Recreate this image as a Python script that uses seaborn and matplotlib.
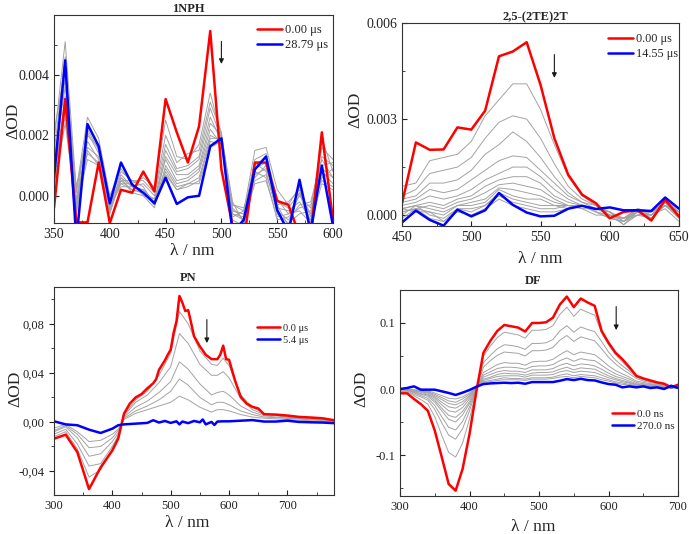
import numpy as np
import pandas as pd
import matplotlib
matplotlib.use("Agg")
import matplotlib.pyplot as plt
import seaborn as sns
from matplotlib.ticker import MultipleLocator, FuncFormatter

# ---- 1NPH (values in milli-OD) ----
nph_wl = list(range(350, 601, 10))
nph_red = [-0.4, 3.2, -0.88, -0.88, 1.1, -0.9, 0.2, 0.1, 0.8, 0.15, 3.2, 2.1, 1.1, 2.3, 5.45, 0.87,
           -1.0, -1.5, 1.1, 1.1, -0.17, -0.3, -1.3, -1.3, 2.1, -0.8]
nph_blue = [0.6, 4.48, -1.5, 2.37, 1.64, -0.25, 1.1, 0.37, 0.1, -0.25, 0.6, -0.27, -0.05, 0.0, 1.64, 1.9,
            -1.2, -0.8, 0.87, 1.3, -0.47, -1.2, 0.53, -1.2, 1.0, -1.0]
nph_gray = [
    [1.8, 5.1, 0.2, 2.6, 1.9, 0.0, 0.9, 0.4, 0.6, 0.3, 2.5, 1.3, 1.2, 1.7, 3.4, 2.0, -0.3, -0.5, 1.5, 1.6, 0.2, -0.3, 0.3, -0.9, 1.9, 0.8],
    [1.4, 4.6, -0.2, 2.4, 1.7, -0.2, 0.8, 0.5, 0.5, 0.1, 2.0, 1.1, 1.4, 1.5, 3.1, 2.1, -0.5, -0.6, 1.2, 1.4, -0.1, -0.6, 0.0, -0.4, 1.6, 1.2],
    [2.1, 4.2, 0.1, 2.2, 1.5, -0.4, 0.7, 0.3, 0.4, 0.0, 1.7, 0.9, 1.0, 1.3, 2.9, 1.9, -0.4, -0.8, 1.0, 1.3, -0.3, -0.2, 0.2, -0.7, 1.3, 1.0],
    [0.9, 3.9, -0.5, 2.1, 1.4, -0.3, 0.6, 0.3, 0.2, -0.2, 1.5, 0.8, 0.9, 1.2, 2.6, 1.8, -0.7, -0.5, 0.9, 1.1, -0.5, -0.8, -0.3, -0.2, 1.2, 0.6],
    [1.2, 3.6, 0.3, 2.0, 1.6, -0.5, 0.5, 0.5, 0.3, -0.3, 1.3, 0.7, 0.7, 1.0, 2.4, 2.0, -0.2, -0.9, 0.7, 0.9, -0.2, -0.4, 0.1, -1.0, 1.0, 1.1],
    [0.5, 3.3, -0.3, 1.8, 1.2, -0.4, 0.4, 0.2, 0.1, -0.1, 1.2, 0.5, 0.6, 0.9, 2.2, 1.7, -0.6, -0.7, 1.1, 0.8, -0.6, -0.9, -0.6, -0.5, 0.8, 0.4],
    [0.2, 3.0, -0.1, 1.6, 1.3, -0.6, 0.6, 0.1, 0.0, -0.4, 1.0, 0.4, 0.5, 0.8, 2.0, 1.8, -0.3, -0.4, 0.6, 1.0, -0.4, -0.5, -0.2, -0.8, 0.6, 0.9],
    [0.7, 2.8, -0.6, 1.5, 1.0, -0.3, 0.3, 0.3, 0.2, -0.2, 0.9, 0.3, 0.4, 0.6, 1.9, 1.9, -0.8, -1.0, 0.8, 0.6, -0.8, -0.7, -0.4, -0.3, 0.5, 0.3],
    [1.0, 2.6, -0.2, 1.4, 1.1, -0.5, 0.5, 0.2, 0.1, -0.3, 0.8, 0.2, 0.3, 0.5, 1.8, 1.7, -0.5, -0.6, 0.5, 0.7, -0.3, -1.0, 0.1, -0.6, 0.9, 0.6],
    [0.3, 2.4, -0.4, 1.2, 1.0, -0.2, 0.4, 0.4, 0.0, -0.1, 0.7, 0.2, 0.4, 0.4, 1.6, 1.8, -0.6, -0.8, 0.4, 0.5, -0.7, -0.6, -0.5, -0.9, 0.4, 0.2],
]

# ---- 2,5-(2TE)2T (milli-OD) ----
te_wl = list(range(450, 651, 10))
te_red = [0.37, 2.27, 2.04, 2.05, 2.74, 2.67, 3.26, 4.96, 5.11, 5.4, 4.07, 2.4, 1.26, 0.64, 0.37, -0.1, 0.1, 0.15, -0.17, 0.48, -0.04]
te_blue = [-0.23, 0.14, -0.15, -0.33, 0.17, -0.04, 0.15, 0.69, 0.32, 0.08, -0.04, -0.02, 0.2, 0.29, 0.19, 0.24, 0.15, 0.15, 0.13, 0.55, 0.2]
te_gray = [
    [0.9, 1.0, 1.7, 1.8, 1.9, 2.3, 3.1, 3.6, 4.1, 4.1, 3.3, 2.2, 1.2, 0.6, 0.3, 0.1, -0.1, 0.1, 0.0, 0.3, 0.0],
    [0.6, 0.8, 1.3, 1.4, 1.5, 1.8, 2.4, 2.9, 3.1, 3.0, 2.4, 1.6, 0.9, 0.5, 0.3, 0.0, -0.1, 0.2, -0.1, 0.4, 0.1],
    [0.5, 0.6, 1.0, 1.0, 1.1, 1.4, 1.9, 2.2, 2.6, 2.3, 1.8, 1.2, 0.7, 0.4, 0.2, 0.1, -0.2, 0.0, 0.1, 0.3, -0.1],
    [0.4, 0.5, 0.8, 0.7, 0.8, 1.1, 1.4, 1.7, 1.85, 1.8, 1.4, 1.0, 0.6, 0.4, 0.3, 0.0, -0.1, 0.1, 0.0, 0.4, 0.0],
    [0.3, 0.4, 0.6, 0.5, 0.6, 0.8, 1.1, 1.3, 1.5, 1.5, 1.2, 0.8, 0.5, 0.3, 0.2, 0.1, -0.2, 0.2, 0.1, 0.3, 0.1],
    [0.2, 0.3, 0.4, 0.3, 0.5, 0.6, 0.9, 1.1, 1.2, 1.2, 1.0, 0.6, 0.4, 0.3, 0.2, 0.0, -0.1, 0.0, -0.1, 0.4, -0.1],
    [0.1, 0.2, 0.3, 0.2, 0.4, 0.5, 0.7, 0.95, 1.0, 0.9, 0.8, 0.5, 0.3, 0.3, 0.2, 0.1, -0.2, 0.1, 0.0, 0.3, 0.0],
    [0.2, 0.3, 0.2, 0.1, 0.3, 0.4, 0.5, 0.85, 0.8, 0.7, 0.6, 0.4, 0.3, 0.3, 0.1, 0.0, -0.1, 0.2, 0.1, 0.4, 0.1],
    [0.1, 0.2, 0.1, 0.0, 0.3, 0.3, 0.4, 0.8, 0.6, 0.5, 0.5, 0.3, 0.3, 0.2, 0.2, 0.1, -0.3, 0.0, 0.0, 0.2, -0.2],
    [0.0, 0.3, 0.0, -0.1, 0.2, 0.2, 0.3, 0.7, 0.5, 0.4, 0.3, 0.3, 0.2, 0.3, 0.1, -0.1, -0.2, 0.1, -0.1, 0.3, 0.0],
    [0.2, 0.1, 0.1, -0.2, 0.2, 0.1, 0.3, 0.6, 0.4, 0.3, 0.2, 0.2, 0.3, 0.2, 0.0, 0.0, -0.3, 0.1, 0.1, 0.4, -0.1],
    [-0.1, 0.2, -0.1, -0.2, 0.1, 0.0, 0.2, 0.5, 0.3, 0.2, 0.1, 0.1, 0.2, 0.3, 0.1, -0.1, -0.2, 0.2, 0.0, 0.5, 0.1],
]

# ---- PN (milli-OD) ----
pn_red_wl = [300, 320, 340, 360, 380, 400, 410, 420, 430, 440, 450, 460, 470, 475, 480, 490, 495,
             500, 505, 510, 515, 520, 525, 530, 535, 540, 550, 560, 570, 580, 585, 590, 595, 600,
             610, 620, 630, 640, 650, 660, 680, 700, 720, 740, 760, 780]
pn_red = [-13.7, -10.4, -24.7, -54.8, -37, -23.3, -13.7, 6.8, 15, 20, 22.7, 27.4, 31.5, 34.8, 42.5, 50.1, 54.8,
          58.9, 72.6, 82.2, 102.7, 97.3, 90.4, 91.2, 80.8, 69.9, 61.6, 54.8, 51.2, 51.2, 54.8, 62.2, 51.2, 50.7,
          34.2, 20.5, 15, 12.3, 11, 6.3, 6, 5.2, 4.1, 3.6, 3, 1.4]
pn_blue_wl = [300, 320, 340, 360, 380, 400, 410, 420, 440, 460, 470, 480, 490, 500, 510, 515, 520, 530,
              540, 550, 555, 560, 570, 575, 580, 590, 600, 620, 640, 660, 680, 700, 720, 740, 760, 780]
pn_blue = [0.5, -2.0, -2.7, -6.3, -9.0, -5.5, -2.7, -2.0, -1.4, -0.8, 1.4, -0.5, 0.8, -0.8, 0.5, -2.0, 0.3, -1.0,
           0.8, -0.3, 2.0, -2.0, 0.0, -2.5, 0.3, 0.5, 0.5, 1.0, 1.5, 0.3, 0.3, 1.0, 0.0, -0.3, -0.5, -1.0]
pn_gray_wl = [300, 320, 340, 360, 380, 400, 410, 420, 440, 460, 480, 500, 515, 530, 550, 570, 580, 590,
              600, 620, 640, 660, 700, 740, 780]
pn_gray = [
    [-12, -8, -22, -45, -39, -22, -12, 6, 18, 25, 38, 56, 90, 80, 58, 47, 46, 52, 46, 22, 12, 7, 4, 3, 1],
    [-10, -6, -18, -36, -34, -20, -11, 5, 16, 22, 32, 45, 72, 64, 47, 38, 38, 41, 36, 19, 10, 6, 4, 2, 1],
    [-8, -4, -13, -28, -26, -16, -9, 4, 12, 17, 24, 33, 49, 43, 31, 22, 24, 25, 22, 13, 8, 5, 3, 2, 1],
    [-7, -3, -10, -21, -20, -13, -7, 3, 9, 13, 18, 25, 35, 30, 20, 14, 16, 16, 14, 9, 6, 4, 3, 2, 0],
    [-5, -2, -8, -16, -15, -10, -6, 2, 7, 10, 13, 16, 21, 18, 12, 8, 10, 10, 9, 6, 4, 3, 2, 1, 0],
]

# ---- DF (milli-OD) ----
df_wl = list(range(300, 701, 10))
df_red = [-6.5, -6.5, -15, -23, -33, -63, -103, -144, -154, -121, -68, -2.5, 55, 73, 88, 97, 95, 93, 87, 100,
          100, 101, 108, 128, 140, 124, 137, 131, 126, 88, 70, 55, 45, 33, 20, 16, 13, 10, 8, 2.5, 6.5]
df_blue = [0, 1.5, 4, -1, -1, -1, -3.5, -6, -9, -5.5, -1.5, 3.5, 7.5, 8.5, 9, 9.5, 9, 9.5, 8, 10.5,
           10.5, 10.5, 10.5, 12.5, 15, 13.5, 15.5, 13.5, 13, 10, 7.5, 6.5, 2.5, 4, 2.5, 4, 1.5, 2.5, 0, 5, 1.5]
df_gray = [
    [-4, -4, -10, -16, -23, -42, -70, -96, -103, -82, -45, -1, 50, 65, 78, 86, 84, 82, 77, 89, 89, 90, 96, 113,
     124, 110, 121, 116, 112, 85, 67, 52, 41, 30, 19, 15, 12, 10, 8, 4, 5],
    [-3, -3, -8, -12, -17, -31, -51, -70, -76, -60, -33, 0, 40, 51, 61, 67, 66, 64, 60, 69, 69, 70, 75, 88,
     96, 86, 94, 90, 87, 72, 56, 44, 35, 27, 18, 14, 11, 9, 7, 4, 5],
    [-2, -2, -6, -10, -14, -25, -42, -58, -62, -49, -27, 0, 33, 43, 51, 56, 55, 54, 50, 58, 58, 59, 63, 74,
     81, 72, 79, 76, 73, 61, 48, 38, 30, 23, 16, 12, 10, 8, 6, 3, 4],
    [-2, -1, -5, -8, -11, -20, -33, -46, -50, -39, -22, 1, 25, 31, 37, 40, 39, 39, 36, 41, 42, 42, 45, 52,
     58, 52, 56, 54, 52, 44, 35, 28, 23, 18, 12, 10, 8, 7, 5, 3, 4],
    [-1, -1, -4, -7, -9, -17, -29, -40, -43, -34, -19, 1, 21, 26, 31, 33, 33, 32, 30, 34, 35, 35, 37, 43,
     47, 42, 46, 44, 43, 36, 29, 23, 19, 15, 10, 8, 7, 6, 4, 3, 3],
    [-1, -1, -3, -5, -8, -14, -24, -33, -35, -28, -15, 1, 18, 22, 26, 28, 27, 27, 25, 29, 29, 29, 31, 36,
     39, 35, 38, 37, 35, 30, 24, 19, 16, 12, 8, 7, 6, 5, 3, 2, 3],
    [0, 0, -3, -4, -6, -12, -20, -27, -29, -23, -12, 2, 15, 18, 22, 24, 23, 23, 21, 24, 25, 25, 26, 30,
     33, 29, 32, 31, 30, 25, 20, 16, 13, 10, 7, 6, 5, 4, 3, 2, 3],
    [0, 0, -2, -3, -5, -10, -16, -22, -24, -19, -10, 2, 13, 16, 19, 20, 20, 20, 18, 21, 21, 21, 22, 26,
     28, 25, 27, 26, 25, 21, 17, 14, 11, 9, 6, 5, 4, 4, 3, 2, 2],
    [0, 0, -2, -3, -4, -8, -13, -18, -20, -15, -8, 2, 11, 13, 15, 17, 16, 16, 15, 17, 17, 17, 18, 21,
     23, 20, 22, 21, 20, 17, 14, 11, 9, 7, 5, 4, 3, 3, 2, 2, 2],
    [0, 0, -1, -2, -3, -6, -10, -14, -15, -12, -6, 2, 10, 11, 13, 14, 14, 14, 13, 15, 15, 15, 16, 18,
     19, 17, 19, 18, 17, 14, 12, 9, 7, 6, 4, 3, 3, 2, 2, 1, 2],
]

sns.set_theme(style="ticks")
plt.rcParams["font.family"] = ["Liberation Serif", "DejaVu Serif"]
plt.rcParams["xtick.direction"] = "in"
plt.rcParams["ytick.direction"] = "in"
plt.rcParams["axes.edgecolor"] = "#333333"
plt.rcParams["axes.linewidth"] = 0.8

GRAY = "#a3a3a3"


def gray_frame(wl, curves):
    rows = []
    for i, c in enumerate(curves):
        for w, v in zip(wl, c):
            rows.append((i, w, v / 1000.0))
    return pd.DataFrame(rows, columns=["curve", "wl", "od"])


def draw(ax, gray_wl, gray, red_wl, red, blue_wl, blue, labels):
    g = gray_frame(gray_wl, gray)
    sns.lineplot(data=g, x="wl", y="od", units="curve", estimator=None, color=GRAY,
                 lw=0.7, ax=ax, legend=False)
    sns.lineplot(x=red_wl, y=np.array(red) / 1000.0, color="#ff0000", lw=1.8, ax=ax, label=labels[0])
    sns.lineplot(x=blue_wl, y=np.array(blue) / 1000.0, color="#0000ff", lw=1.8, ax=ax, label=labels[1])


def style(ax, title, xlim, ylim, xmaj, ymaj, yfmt, tick_fs, title_pad, leg_xy, leg_fs, leg_hl,
          arrow, ylab_xy, xlab_xy):
    ax.set_xlim(*xlim)
    ax.set_ylim(*ylim)
    ax.xaxis.set_major_locator(MultipleLocator(xmaj))
    ax.xaxis.set_minor_locator(MultipleLocator(xmaj / 2))
    ax.yaxis.set_major_locator(MultipleLocator(ymaj))
    ax.yaxis.set_minor_locator(MultipleLocator(ymaj / 2))
    ax.yaxis.set_major_formatter(FuncFormatter(yfmt))
    ax.tick_params(which="major", length=3.5, width=0.8, labelsize=tick_fs, colors="#222222")
    ax.tick_params(which="minor", length=2, width=0.6)
    for s in ax.spines.values():
        s.set_visible(True)
    ax.set_title(title, fontsize=9, fontweight="bold", pad=title_pad, x=0.48)
    ax.set_ylabel("ΔOD", fontsize=12.5)
    ax.yaxis.set_label_coords(*ylab_xy)
    ax.set_xlabel("λ / nm", fontsize=12.5)
    ax.xaxis.set_label_coords(*xlab_xy)
    ax.legend(loc="upper left", bbox_to_anchor=leg_xy, frameon=False, fontsize=leg_fs,
              handlelength=leg_hl, handletextpad=0.25, labelspacing=0.25, borderpad=0,
              borderaxespad=0)
    ax.annotate("", xy=(arrow[0], arrow[2]), xytext=(arrow[0], arrow[1]),
                arrowprops=dict(arrowstyle="-|>", color="k", lw=0.8, mutation_scale=7))


fig = plt.figure(figsize=(6.89, 5.34), dpi=100)
ax1 = fig.add_axes([0.0784, 0.5824, 0.4049, 0.3895])
ax2 = fig.add_axes([0.5835, 0.5768, 0.4020, 0.3801])
ax3 = fig.add_axes([0.0784, 0.0730, 0.4064, 0.3895])
ax4 = fig.add_axes([0.5806, 0.0712, 0.4035, 0.3858])

draw(ax1, nph_wl, nph_gray, nph_wl, nph_red, nph_wl, nph_blue, ["0.00 μs", "28.79 μs"])
style(ax1, "1NPH", (350, 600), (-0.0009, 0.00598), 50, 0.002, lambda v, p: f"{v:.3f}", 10,
      2, (0.728, 0.955), 9, 2.0, (500, 0.0052, 0.00427), (-0.118, 0.49), (0.495, -0.096))

draw(ax2, te_wl, te_gray, te_wl, te_red, te_wl, te_blue, ["0.00 μs", "14.55 μs"])
style(ax2, "2,5-(2TE)2T", (450, 650), (-0.00034, 0.006), 50, 0.003, lambda v, p: f"{v:.3f}", 10,
      2, (0.744, 0.95), 8.8, 2.0, (560, 0.0051, 0.0042), (-0.141, 0.57), (0.5, -0.123))

draw(ax3, pn_gray_wl, pn_gray, pn_red_wl, pn_red, pn_blue_wl, pn_blue, ["0.0 μs", "5.4 μs"])
style(ax3, "PN", (300, 780), (-0.0596, 0.110), 100, 0.04,
      lambda v, p: f"{v:.2f}".replace(".", ",").replace("-0,00", "0,00"), 9,
      4, (0.725, 0.825), 7.5, 2.2, (562, 0.0857, 0.062), (-0.111, 0.51), (0.475, -0.096))
ax3.tick_params(axis="y", which="both", direction="out")

draw(ax4, df_wl, df_gray, df_wl, df_red, df_wl, df_blue, ["0.0 ns", "270.0 ns"])
style(ax4, "DF", (300, 700), (-0.162, 0.15), 100, 0.1,
      lambda v, p: f"{v:.1f}".replace("-0.0", "0.0"), 9,
      4.5, (0.763, 0.422), 8, 2.0, (611, 0.129, 0.085), (-0.112, 0.52), (0.478, -0.112))

fig.savefig("out.png", dpi=100)
